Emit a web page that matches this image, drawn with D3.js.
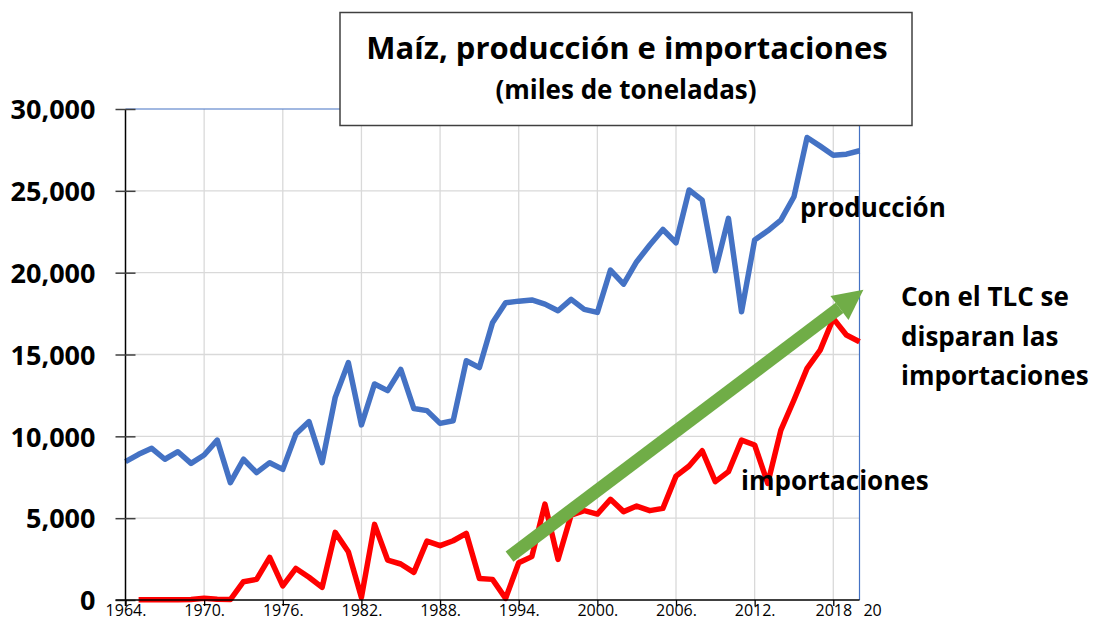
<!DOCTYPE html>
<html><head><meta charset="utf-8">
<script src="https://cdn.jsdelivr.net/npm/d3@7"></script>
<style>
html,body{margin:0;padding:0;background:#fff;}
svg{display:block;font-family:"Open Sans",Lato,sans-serif;}
</style></head>
<body>
<svg id="c" width="1096" height="621"></svg>
<script>
const years = [1964,1965,1966,1967,1968,1969,1970,1971,1972,1973,1974,1975,1976,1977,1978,1979,1980,1981,1982,1983,1984,1985,1986,1987,1988,1989,1990,1991,1992,1993,1994,1995,1996,1997,1998,1999,2000,2001,2002,2003,2004,2005,2006,2007,2008,2009,2010,2011,2012,2013,2014,2015,2016,2017,2018,2019,2020];
const produccion = [8450,8900,9270,8600,9060,8350,8860,9770,7170,8600,7780,8390,7980,10140,10900,8390,12380,14500,10700,13200,12790,14090,11700,11570,10790,10950,14620,14200,16940,18160,18260,18330,18080,17670,18370,17760,17570,20160,19300,20670,21690,22640,21830,25050,24430,20120,23320,17610,21990,22560,23210,24640,28260,27730,27180,27240,27450];
const importaciones = [null,20,20,20,20,30,100,40,30,1120,1260,2600,860,1930,1390,770,4130,2950,160,4620,2440,2200,1690,3600,3320,3620,4070,1320,1260,100,2280,2650,5860,2480,5190,5460,5250,6150,5400,5740,5460,5600,7570,8190,9120,7230,7840,9770,9470,7130,10380,12220,14150,15270,17200,16190,15780];
const yTicks = [0,5000,10000,15000,20000,25000,30000];
const xTicks = [1964,1970,1976,1982,1988,1994,2000,2006,2012,2018];
const xTickLabels = ["1964.","1970.","1976.","1982.","1988.","1994.","2000.","2006.","2012.","2018"];
const extraXLabel = {year: 2021, text: "20"};
const title = "Maíz, producción e importaciones";
const subtitle = "(miles de toneladas)";
const arrowFrom = {year: 1993.3, value: 2650};
const arrowTo = {year: 2020.3, value: 18950};
const noteLines = ["Con el TLC se","disparan las","importaciones"];

const FONT = "'Open Sans',Lato,sans-serif";
const svg = d3.select("#c");
svg.append("rect").attr("width",1096).attr("height",621).attr("fill","#fff");

const x = d3.scaleLinear().domain([1964,2020]).range([125.5,859.5]);
const y = d3.scaleLinear().domain([0,30000]).range([600,109]);

// gridlines
const g = svg.append("g");
g.selectAll("line.h").data(yTicks.filter(d=>d>0&&d<30000)).join("line")
  .attr("x1",x(1964)).attr("x2",x(2020)).attr("y1",d=>y(d)).attr("y2",d=>y(d))
  .attr("stroke","#d9d9d9").attr("stroke-width",1.3);
g.selectAll("line.v").data(xTicks.filter(d=>d>1964)).join("line")
  .attr("x1",d=>x(d)).attr("x2",d=>x(d)).attr("y1",y(0)).attr("y2",y(30000))
  .attr("stroke","#d9d9d9").attr("stroke-width",1.3);

// plot border top/right in blue
svg.append("path")
  .attr("d",`M${x(1964)},${y(30000)}H${x(2020)}V${y(0)}`)
  .attr("fill","none").attr("stroke","#4472C4").attr("stroke-width",1.2);

// lines
const line = (arr)=>d3.line().defined((d,i)=>arr[i]!=null).x((d,i)=>x(years[i])).y((d,i)=>y(arr[i]));
svg.append("path").datum(years).attr("d",line(produccion))
  .attr("fill","none").attr("stroke","#4472C4").attr("stroke-width",5.5)
  .attr("stroke-linejoin","round").attr("stroke-linecap","butt");
svg.append("path").datum(years).attr("d",line(importaciones))
  .attr("fill","none").attr("stroke","#FF0000").attr("stroke-width",5.5)
  .attr("stroke-linejoin","round").attr("stroke-linecap","butt");

// axes
const yAxis = d3.axisLeft(y).tickValues(yTicks).tickFormat(d3.format(",")).tickSize(0).tickPadding(30);
const ya = svg.append("g").attr("transform",`translate(${x(1964)},0)`).call(yAxis);
ya.select(".domain").attr("stroke","#000").attr("stroke-width",1.5).attr("d",`M0,${y(30000)}V${y(0)+6}`);
ya.selectAll("text").attr("font-size",27).attr("font-weight","bold").attr("fill","#000")
  .attr("font-family",FONT).attr("dy","0.36em");
ya.selectAll(".tick").append("line").attr("x1",-10).attr("x2",10).attr("stroke","#404040").attr("stroke-width",1.5);

const xAxis = d3.axisBottom(x).tickValues(xTicks).tickFormat((d,i)=>xTickLabels[i]).tickSize(6).tickPadding(-1);
const xa = svg.append("g").attr("transform",`translate(0,${y(0)})`).call(xAxis);
xa.select(".domain").attr("stroke","#000").attr("stroke-width",1.5).attr("d",`M${x(1964)-10},0H${x(2020)}`);
xa.selectAll(".tick line").attr("stroke","#000").attr("stroke-width",1.3);
xa.selectAll("text").attr("font-size",16).attr("fill","#000").attr("font-family",FONT);
svg.append("text").attr("x",x(extraXLabel.year)).attr("y",y(0)+5).attr("dy","0.71em").attr("text-anchor","middle")
  .attr("font-size",16).attr("fill","#000").text(extraXLabel.text);

// arrow
const ax1=x(arrowFrom.year), ay1=y(arrowFrom.value), ax2=x(arrowTo.year), ay2=y(arrowTo.value);
const ang = Math.atan2(ay2-ay1, ax2-ax1);
const headL = 30, headW = 15;
const bx = ax2 - headL*Math.cos(ang), by = ay2 - headL*Math.sin(ang);
svg.append("line").attr("x1",ax1).attr("y1",ay1).attr("x2",bx).attr("y2",by)
  .attr("stroke","#70AD47").attr("stroke-width",13);
svg.append("path").attr("d",`M${ax2},${ay2}L${bx - headW*Math.sin(ang)},${by + headW*Math.cos(ang)}L${bx + headW*Math.sin(ang)},${by - headW*Math.cos(ang)}Z`)
  .attr("fill","#70AD47");

// series labels
svg.append("text").attr("x",800).attr("y",217).attr("font-size",26).attr("font-weight","bold").attr("fill","#000").text("producción");
svg.append("text").attr("x",741).attr("y",490).attr("font-size",26).attr("font-weight","bold").attr("fill","#000").text("importaciones");
svg.append("g").selectAll("text").data(noteLines).join("text")
  .attr("x",901).attr("y",(d,i)=>306+i*39.5).attr("font-size",26).attr("font-weight","bold").attr("fill","#000").text(d=>d);

// title box
svg.append("rect").attr("x",340).attr("y",12.5).attr("width",572).attr("height",113)
  .attr("fill","#fff").attr("stroke","#404040").attr("stroke-width",1.5);
svg.append("text").attr("x",627).attr("y",59).attr("text-anchor","middle").attr("font-size",31).attr("font-weight","bold").attr("fill","#000").text(title);
svg.append("text").attr("x",626).attr("y",99).attr("text-anchor","middle").attr("font-size",26).attr("font-weight","bold").attr("fill","#000").text(subtitle);
</script>
</body></html>
